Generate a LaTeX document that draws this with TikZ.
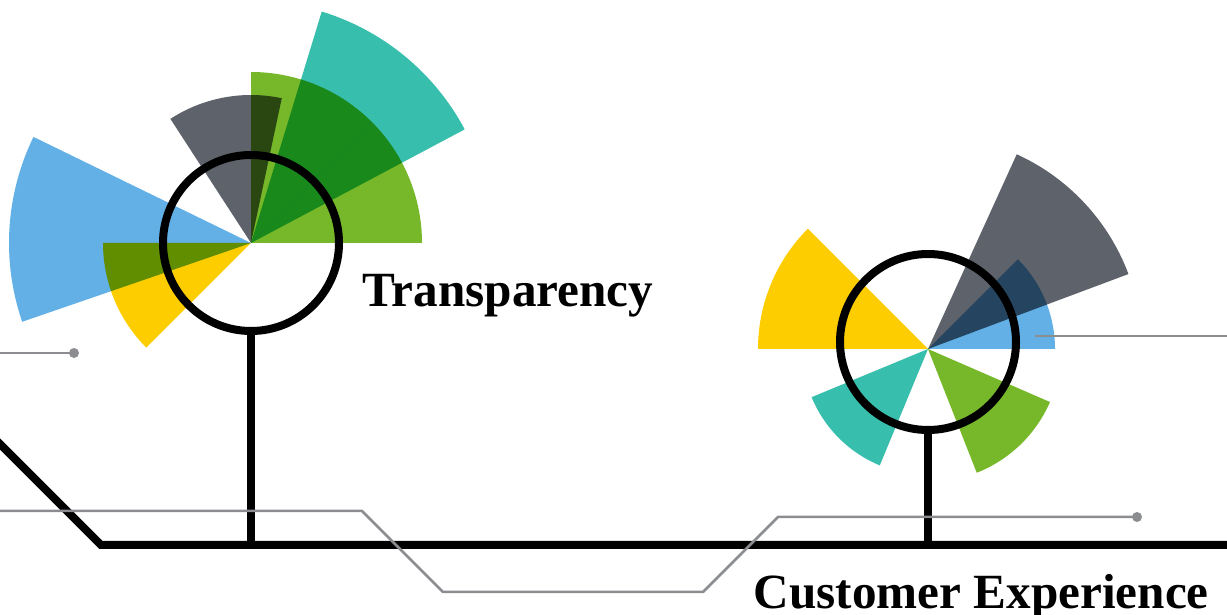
\documentclass[tikz,border=0pt]{standalone}
\usepackage{fontspec}
\setmainfont{Liberation Serif}
\usetikzlibrary{positioning}
\definecolor{petalblue}{HTML}{62B0E6}
\definecolor{petallime}{HTML}{76B82A}
\definecolor{petalteal}{HTML}{37BEAC}
\definecolor{petalgrey}{HTML}{5E636B}
\definecolor{petalyellow}{HTML}{FDCD00}
\definecolor{wiregrey}{HTML}{8C8D91}

\begin{document}
\begin{tikzpicture}[
    petal/.style={fill=#1, blend mode=multiply},
    hub/.style={circle, draw, line width=0.8mm, minimum size=1.76cm, inner sep=0pt},
    stem/.style={line width=0.75mm},
    wire/.style={draw=wiregrey, line width=0.25mm},
    headline/.style={anchor=base west, inner sep=0pt, font=\bfseries\fontsize{14}{16}\selectfont}]
  \useasboundingbox (0,0) rectangle (12.27,6.15);

  % TRANSPARENCY
  \coordinate (cL) at (2.51,3.72);
  \foreach \a/\b/\r/\c in {0/45/1.71/petallime, 45/90/1.71/petallime, 28/73/2.42/petalteal,
      78/123/1.48/petalgrey, 154/199/2.42/petalblue, 180/225/1.48/petalyellow} {
    \path[petal=\c] (cL) -- ++(\a:\r) arc[start angle=\a, end angle=\b, radius=\r] -- cycle;
  }
  \node[hub] (hubL) at (2.51,3.72) {};
  \node[headline] (transparency) at (3.62,3.08) {Transparency};

  % CUSTOMER EXPERIENCE
  \coordinate (cR) at (9.28,2.66);
  \foreach \a/\b/\r/\c in {135/180/1.70/petalyellow, 20.5/65.5/2.14/petalgrey, 0/45/1.27/petalblue,
      202.5/247.5/1.26/petalteal, 291.5/336.5/1.33/petallime} {
    \path[petal=\c] (cR) -- ++(\a:\r) arc[start angle=\a, end angle=\b, radius=\r] -- cycle;
  }
  \node[hub] (hubR) at (9.28,2.73) {};
  \node[headline] (custexp) at (7.53,0.06) {Customer Experience};

  % ground line and stems
  \coordinate (bend) at (1.01,0.70);
  \draw[line width=0.8mm] (-0.1,1.81) -- (bend) -- (12.4,0.70);
  \draw[stem] (hubL.south) -- (hubL.south |- bend);
  \draw[stem] (hubR.south) -- (hubR.south |- bend);

  % grey wires
  \coordinate (dotA) at (0.74,2.62);
  \coordinate (dotC) at (11.37,0.98);
  \draw[wire] (-0.1,2.62) -- (dotA);
  \draw[wire] (10.35,2.79) -- (12.4,2.79);
  \draw[wire] (-0.1,1.04) -- (3.62,1.04) -- (4.43,0.23) -- (7.03,0.23) -- (7.78,0.98) -- (dotC);
  \foreach \d in {dotA, dotC} {
    \fill[wiregrey] (\d) circle (0.05);
  }
\end{tikzpicture}
\end{document}
